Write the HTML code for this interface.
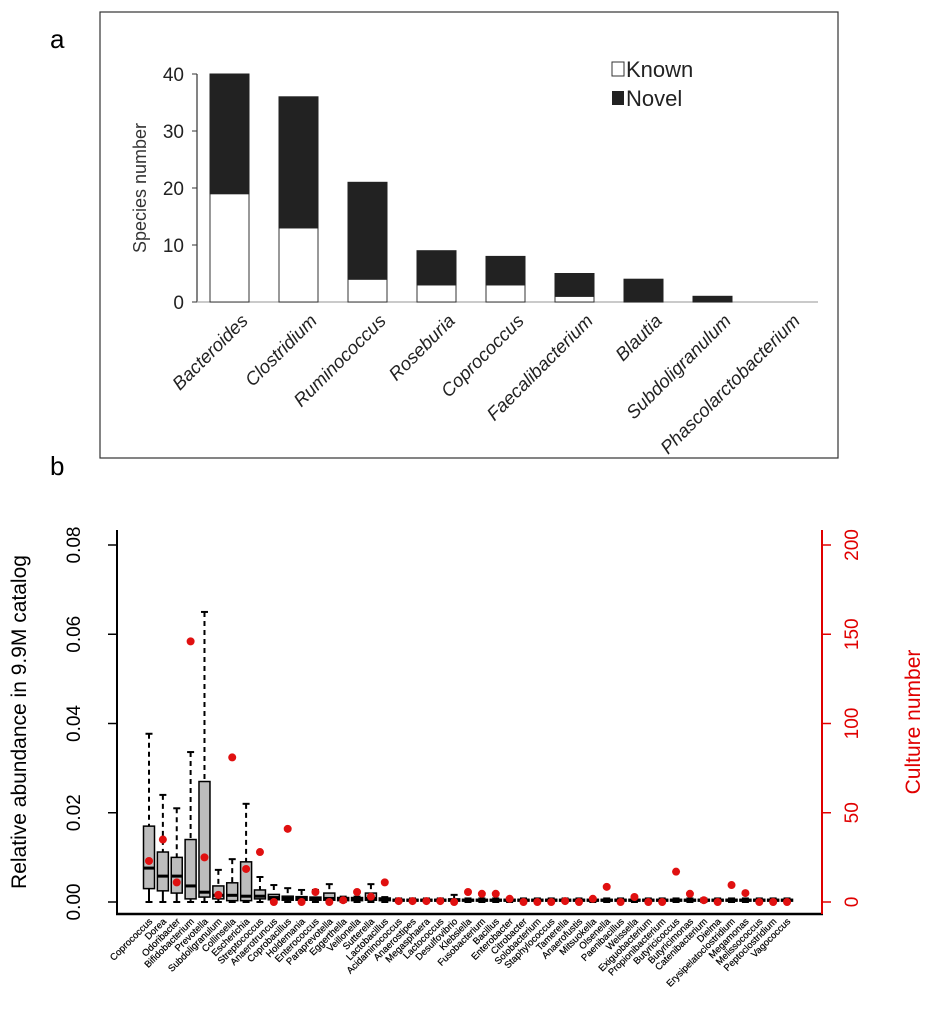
<!DOCTYPE html>
<html><head><meta charset="utf-8"><style>
body{margin:0;background:#fff;}
svg{display:block;font-family:"Liberation Sans",Arial,sans-serif;}
</style></head><body>
<svg width="931" height="1020" viewBox="0 0 931 1020" xmlns="http://www.w3.org/2000/svg">
<g id="panelA">
<rect x="100" y="12" width="738" height="446" fill="none" stroke="#333" stroke-width="1.2"/>
<text x="50" y="48" font-size="26">a</text>
<text transform="translate(146,188) rotate(-90)" text-anchor="middle" font-size="18" fill="#333">Species number</text>
<g id="aAxis"></g><g id="aBars"></g><g id="aLabels"></g>
<rect x="612" y="62" width="12" height="14" fill="#fff" stroke="#333"/>
<text x="626" y="77" font-size="22" fill="#222">Known</text>
<rect x="612" y="91" width="12" height="14" fill="#222"/>
<text x="626" y="106" font-size="22" fill="#222">Novel</text>
</g>
<g id="panelB">
<text x="50" y="475" font-size="26">b</text>
<text transform="translate(26,722) rotate(-90)" text-anchor="middle" font-size="21">Relative abundance in 9.9M catalog</text>
<text transform="translate(920,722) rotate(-90)" text-anchor="middle" font-size="21" fill="#e00000">Culture number</text>
<g id="bAxis"></g><g id="bBoxes"></g><g id="bDots"></g><g id="bLabels"></g>
</g>
</svg>
<script>
const NS="http://www.w3.org/2000/svg";
function mk(tag,attrs,parent,txt){const e=document.createElementNS(NS,tag);for(const k in attrs)e.setAttribute(k,attrs[k]);if(txt!==undefined)e.textContent=txt;parent.appendChild(e);return e;}
// ---- Panel a data ----
const aCategories=["Bacteroides","Clostridium","Ruminococcus","Roseburia","Coprococcus","Faecalibacterium","Blautia","Subdoligranulum","Phascolarctobacterium"];
const aKnown=[19,13,4,3,3,1,0,0,0];
const aNovel=[21,23,17,6,5,4,4,1,0];
const aTicks=[0,10,20,30,40];
// ---- Panel b data ----
const bCategories=["Coprococcus","Dorea","Odoribacter","Bifidobacterium","Prevotella","Subdoligranulum","Collinsella","Escherichia","Streptococcus","Anaerotruncus","Coprobacillus","Holdemania","Enterococcus","Paraprevotella","Eggerthella","Veillonella","Sutterella","Lactobacillus","Acidaminococcus","Anaerostipes","Megasphaera","Lactococcus","Desulfovibrio","Klebsiella","Fusobacterium","Bacillus","Enterobacter","Citrobacter","Solobacterium","Staphylococcus","Tamerella","Anaerofustis","Mitsuokella","Olsenella","Paenibacillus","Weissella","Exiguobacterium","Propionibacterium","Butyricicoccus","Butyricimonas","Catenibacterium","Dielma","Erysipelatoclostridium","Megamonas","Melissococcus","Peptoclostridium","Vagococcus"];
const bQ1=[0.003,0.0025,0.002,0.0007,0.0011,0.0007,0.0003,0.0003,0.0007,0.0005,0.0004,0.0004,0.0004,0.0004,0.0003,0.0003,0.0004,0.0003,0.0002,0.0002,0.0002,0.0002,0.0002,0.0002,0.0002,0.0002,0.0002,0.0002,0.0002,0.0002,0.0002,0.0002,0.0002,0.0002,0.0002,0.0002,0.0002,0.0002,0.0002,0.0002,0.0002,0.0002,0.0002,0.0002,0.0002,0.0002,0.0002];
const bMedian=[0.0076,0.0058,0.0058,0.0036,0.0022,0.0015,0.0015,0.0013,0.0013,0.001,0.0008,0.0008,0.0007,0.0008,0.0006,0.0006,0.0008,0.0006,0.0004,0.0004,0.0004,0.0004,0.0004,0.0004,0.0004,0.0004,0.0004,0.0004,0.0004,0.0004,0.0004,0.0004,0.0004,0.0004,0.0004,0.0004,0.0004,0.0004,0.0004,0.0004,0.0004,0.0004,0.0004,0.0004,0.0004,0.0004,0.0004];
const bQ3=[0.017,0.0112,0.010,0.014,0.027,0.0036,0.0043,0.009,0.0027,0.0017,0.0013,0.0012,0.0011,0.002,0.001,0.001,0.002,0.0009,0.0006,0.0006,0.0006,0.0006,0.0007,0.0006,0.0006,0.0006,0.0006,0.0006,0.0006,0.0006,0.0006,0.0006,0.0006,0.0006,0.0006,0.0006,0.0006,0.0006,0.0006,0.0006,0.0006,0.0006,0.0006,0.0006,0.0006,0.0006,0.0006];
const bUpper=[0.0377,0.024,0.021,0.0336,0.065,0.0072,0.0096,0.022,0.0056,0.0038,0.0031,0.0027,0.0027,0.004,0.0012,0.0012,0.004,0.0011,0.0008,0.0008,0.0008,0.0008,0.0016,0.0008,0.0008,0.0008,0.0008,0.0008,0.0008,0.0008,0.0008,0.0008,0.0008,0.0008,0.0008,0.0008,0.0008,0.0008,0.0008,0.0008,0.0008,0.0008,0.0008,0.0008,0.0008,0.0008,0.0008];
const bCulture=[23,35,11,146,25,4,81,18.5,28,0,41,0,5.6,0,1,5.6,3,11,0.5,0.5,0.5,0.5,0,5.6,4.6,4.6,1.8,0,0,0,0.5,0,1.8,8.5,0,2.8,0,0,17,4.6,1,0,9.5,5,0,0,0];
const bLeftTicks=["0.00","0.02","0.04","0.06","0.08"];
const bLeftTickVals=[0,0.02,0.04,0.06,0.08];
const bRightTicks=[0,50,100,150,200];

// ---- Panel a draw ----
const aY=v=>302-v*(228/40);
const aX=i=>230+i*69;
const aAxis=document.getElementById('aAxis');
let l=mk('line',{x1:197,y1:74,x2:197,y2:302,stroke:'#333','stroke-width':1.2},aAxis);

l=mk('line',{x1:197,y1:302,x2:818,y2:302,stroke:'#aaa','stroke-width':1.2},aAxis);

aTicks.forEach(t=>{
 mk('line',{x1:192,y1:aY(t),x2:197,y2:aY(t),stroke:'#333'},aAxis);
 const tx=mk('text',{x:184,y:aY(t)+7,'text-anchor':'end','font-size':19,fill:'#222'},aAxis,String(t));
 
});
const aBars=document.getElementById('aBars'),aLabels=document.getElementById('aLabels');
aCategories.forEach((c,i)=>{
 const x=aX(i)-20;
 if(aKnown[i]>0){const r=mk('rect',{x:x,y:aY(aKnown[i]),width:39,height:aY(0)-aY(aKnown[i]),fill:'#fff',stroke:'#333','stroke-width':1},aBars);
  }
 if(aNovel[i]>0){const top=aKnown[i]+aNovel[i];const r=mk('rect',{x:x,y:aY(top),width:39,height:aY(aKnown[i])-aY(top),fill:'#222',stroke:'#222','stroke-width':1},aBars);
  }
 const t=mk('text',{transform:`translate(${aX(i)+19},${322}) rotate(-45)`,'text-anchor':'end','font-size':18.5,'font-style':'italic',fill:'#222'},aLabels,c);
 
});

// ---- Panel b draw ----
const bY=v=>902-v*(357/0.08);
const bYR=v=>902-v*(357/200);
const bX=i=>149+i*13.87;
const bAxis=document.getElementById('bAxis');
l=mk('line',{x1:117,y1:530,x2:117,y2:914,stroke:'#000','stroke-width':2},bAxis);

l=mk('line',{x1:116,y1:914,x2:823,y2:914,stroke:'#000','stroke-width':2.5},bAxis);

l=mk('line',{x1:822,y1:530,x2:822,y2:914,stroke:'#e00000','stroke-width':2},bAxis);

bLeftTickVals.forEach((v,k)=>{
 mk('line',{x1:108,y1:bY(v),x2:117,y2:bY(v),stroke:'#000','stroke-width':1.5},bAxis);
 const t=mk('text',{transform:`translate(80,${bY(v)}) rotate(-90)`,'text-anchor':'middle','font-size':19},bAxis,bLeftTicks[k]);
 
});
bRightTicks.forEach(v=>{
 mk('line',{x1:822,y1:bYR(v),x2:831,y2:bYR(v),stroke:'#e00000','stroke-width':1.5},bAxis);
 const t=mk('text',{transform:`translate(858,${bYR(v)}) rotate(-90)`,'text-anchor':'middle','font-size':19,fill:'#e00000'},bAxis,String(v));
 
});
const bBoxes=document.getElementById('bBoxes'),bDots=document.getElementById('bDots'),bLabels=document.getElementById('bLabels');
bCategories.forEach((c,i)=>{
 const x=bX(i),w=11;
 const g=mk('g',{},bBoxes);
 
 
 mk('line',{x1:x,y1:bY(bUpper[i]),x2:x,y2:bY(bQ3[i]),stroke:'#000','stroke-width':2,'stroke-dasharray':'5,4'},g);
 mk('line',{x1:x-3.5,y1:bY(bUpper[i]),x2:x+3.5,y2:bY(bUpper[i]),stroke:'#000','stroke-width':2},g);
 mk('line',{x1:x,y1:bY(bQ1[i]),x2:x,y2:bY(0),stroke:'#000','stroke-width':2},g);
 mk('line',{x1:x-3.5,y1:bY(0),x2:x+3.5,y2:bY(0),stroke:'#000','stroke-width':2},g);
 mk('rect',{x:x-w/2,y:bY(bQ3[i]),width:w,height:Math.max(1,bY(bQ1[i])-bY(bQ3[i])),fill:'#bdbdbd',stroke:'#000','stroke-width':1.5},g);
 mk('line',{x1:x-w/2,y1:bY(bMedian[i]),x2:x+w/2,y2:bY(bMedian[i]),stroke:'#000','stroke-width':3},g);
 const d=mk('circle',{cx:x,cy:bYR(bCulture[i]),r:4,fill:'#e01010'},bDots);
 
 
 const t=mk('text',{transform:`translate(${x+4},922) rotate(-45)`,'text-anchor':'end','font-size':9.5,stroke:'#000','stroke-width':0.2},bLabels,c);
 
 
});
</script>
</body></html>
